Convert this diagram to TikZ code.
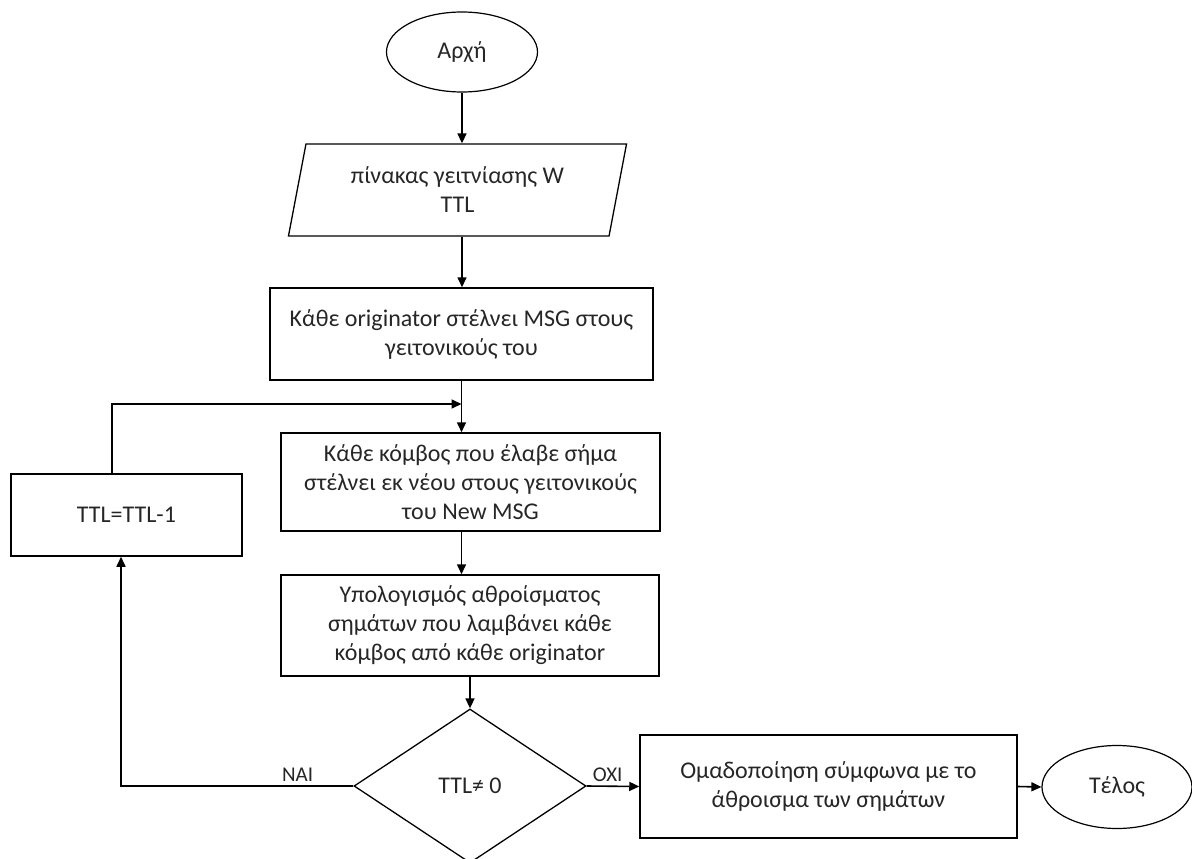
\documentclass[tikz,border=0pt]{standalone}
\usepackage{fontspec}
\setmainfont{Carlito}
\usepackage{tikz}
\usetikzlibrary{
    shapes.geometric,
    arrows.meta,
    positioning,
    calc
}

\begin{document}
\begin{tikzpicture}[x=1pt, y=-1pt,
    every node/.style={font=\fontsize{24}{29}\selectfont, text=black!85},
    lbl/.style={font=\fontsize{21}{25}\selectfont},
    procbox/.style={draw, line width=1.5pt, rectangle, align=center, inner sep=0pt},
    termnode/.style={draw, line width=1.2pt, ellipse, inner sep=0pt},
    flow/.style={-{Triangle[length=10pt, width=9pt]}, line width=1.6pt}
]

\useasboundingbox (0,0) rectangle (1192,859);

% Start
\node[termnode, minimum width=151pt, minimum height=80pt] (start) at (462,52) {Αρχή};

% Input
\node[draw, line width=1.3pt, trapezium, trapezium left angle=75, trapezium right angle=105,
    trapezium stretches=true, minimum width=339pt, minimum height=92pt, inner sep=0pt, align=center]
    (input) at (457.5,190) {πίνακας γειτνίασης W\\TTL};

% Process boxes
\node[procbox, minimum width=383pt, minimum height=92pt] (send) at (461.5,334)
    {Κάθε originator στέλνει MSG στους\\γειτονικούς του};
\node[procbox, minimum width=379pt, minimum height=98pt] (resend) at (470.5,482)
    {Κάθε κόμβος που έλαβε σήμα\\στέλνει εκ νέου στους γειτονικούς\\του New MSG};
\node[procbox, minimum width=378pt, minimum height=101pt] (sum) at (470,625.5)
    {Υπολογισμός αθροίσματος\\σημάτων που λαμβάνει κάθε\\κόμβος από κάθε originator};
\node[procbox, minimum width=231pt, minimum height=82pt] (dec) at (126.5,515) {TTL=TTL-1};

% Decision
\node[draw, line width=1.3pt, diamond, minimum width=232pt, minimum height=154pt, inner sep=0pt]
    (cond) at (470,786) {TTL≠ 0};

% Grouping and end
\node[procbox, minimum width=377pt, minimum height=103pt] (group) at (828.5,786.5)
    {Ομαδοποίηση σύμφωνα με το\\άθροισμα των σημάτων};
\node[termnode, minimum width=150pt, minimum height=83pt] (end) at (1117,787) {Τέλος};

% Main flow
\draw[flow] (start.south) -- (start.south |- input.north);
\draw[flow] (start.south |- input.south) -- (start.south |- send.north);
\draw[flow] (send.south) -- (send.south |- resend.north);
\draw[flow] (resend.south -| send.south) -- (sum.north -| send.south);
\draw[flow] (sum.south -| cond.north) -- (cond.north);
\draw[flow] (cond.east) -- node[lbl, above, pos=0.4] (no) {ΟΧΙ} (group.west);
\draw[flow] (group.east) -- (end.west);

% Loop back
\coordinate (naicorner) at (121,786);
\coordinate (loopcorner) at (112,404);
\draw[flow] (cond.west) -- node[lbl, above, pos=0.24] (yes) {ΝΑΙ} (naicorner) -- (naicorner |- dec.south);
\draw[flow] (dec.north -| loopcorner) -- (loopcorner) -- (loopcorner -| send.south);

\end{tikzpicture}
\end{document}
